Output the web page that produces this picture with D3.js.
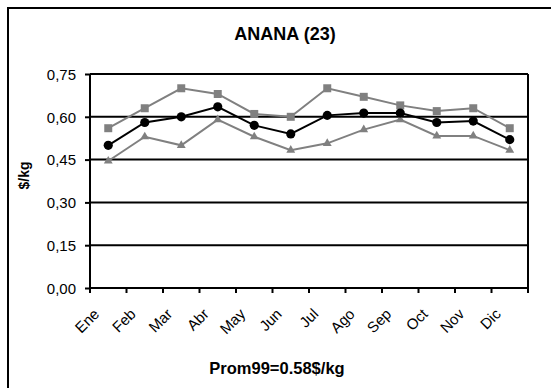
<!DOCTYPE html>
<html>
<head>
<meta charset="utf-8">
<script src="https://cdn.jsdelivr.net/npm/d3@7"></script>
<style>
  body { margin: 0; background: #fff; }
  svg text { font-family: "Liberation Sans", Arial, sans-serif; fill: #000; }
</style>
</head>
<body>
<div id="chart"></div>
<script>
'use strict';

// data
const months = ["Ene", "Feb", "Mar", "Abr", "May", "Jun", "Jul", "Ago", "Sep", "Oct", "Nov", "Dic"];
const maxPrice = [0.56, 0.63, 0.70, 0.68, 0.61, 0.60, 0.70, 0.67, 0.64, 0.62, 0.63, 0.56];
const meanPrice = [0.50, 0.58, 0.60, 0.635, 0.57, 0.54, 0.605, 0.613, 0.613, 0.58, 0.585, 0.52];
const minPrice = [0.445, 0.53, 0.50, 0.59, 0.53, 0.483, 0.507, 0.555, 0.59, 0.533, 0.533, 0.483];
const yTicks = [0, 0.15, 0.30, 0.45, 0.60, 0.75];

const width = 551, height = 388;
const plot = {left: 90, right: 528, top: 74, bottom: 288};

const svg = d3.select("#chart")
  .append("svg")
    .attr("width", width)
    .attr("height", height);

// outer frame (cut off at right and bottom like the original)
svg.append("rect")
  .attr("x", 8)
  .attr("y", 8)
  .attr("width", 560)
  .attr("height", 400)
  .attr("fill", "none")
  .attr("stroke", "#000")
  .attr("stroke-width", 2);

let x = d3.scaleBand()
  .domain(months)
  .range([plot.left, plot.right]);

let y = d3.scaleLinear()
  .domain([0, 0.75])
  .range([plot.bottom, plot.top]);

// gridlines
svg.append("g").selectAll("line")
  .data(yTicks.slice(1))
  .enter()
  .append("line")
  .attr("x1", plot.left)
  .attr("x2", plot.right)
  .attr("y1", d => y(d))
  .attr("y2", d => y(d))
  .attr("stroke", "#000")
  .attr("stroke-width", 2);

// right border of plot area
svg.append("line")
  .attr("x1", plot.right)
  .attr("x2", plot.right)
  .attr("y1", plot.top)
  .attr("y2", plot.bottom)
  .attr("stroke", "#000")
  .attr("stroke-width", 2);

// y axis
let yAxis = svg.append("g")
  .attr("transform", "translate(" + plot.left + ",0)")
  .call(d3.axisLeft(y)
    .tickValues(yTicks)
    .tickSize(5)
    .tickPadding(9)
    .tickFormat(d => d3.format(".2f")(d).replace(".", ",")));

yAxis.selectAll("path, line").attr("stroke", "#000").attr("stroke-width", 2);
yAxis.select(".domain").attr("d", "M0," + plot.top + "V" + plot.bottom);
yAxis.selectAll("text")
  .style("font-size", "15px")
  .style("font-family", "'Liberation Sans', Arial, sans-serif")
  .attr("dy", "0.35em");

// x axis: ticks on the category boundaries
let xAxis = svg.append("g")
  .attr("transform", "translate(0," + plot.bottom + ")");

xAxis.append("line")
  .attr("x1", plot.left)
  .attr("x2", plot.right)
  .attr("stroke", "#000")
  .attr("stroke-width", 2);

let edges = months.map(m => x(m)).concat([plot.right]);
xAxis.selectAll(".edge")
  .data(edges)
  .enter()
  .append("line")
  .attr("class", "edge")
  .attr("x1", d => d)
  .attr("x2", d => d)
  .attr("y1", 0)
  .attr("y2", 5)
  .attr("stroke", "#000")
  .attr("stroke-width", 2);

xAxis.selectAll(".month")
  .data(months)
  .enter()
  .append("text")
  .attr("class", "month")
  .attr("text-anchor", "end")
  .attr("transform", d => "translate(" + (x(d) + x.bandwidth() / 2 - 8) + ",27) rotate(-45)")
  .style("font-size", "15px")
  .text(d => d);

// series
const series = [
  {values: minPrice, color: "#808080", symbol: d3.symbolTriangle, size: 34},
  {values: maxPrice, color: "#808080", symbol: d3.symbolSquare, size: 64},
  {values: meanPrice, color: "#000000", symbol: d3.symbolCircle, size: 66}
];

let line = d3.line()
  .x((d, i) => x(months[i]) + x.bandwidth() / 2)
  .y(d => y(d));

series.forEach(function(s) {
  svg.append("path")
    .datum(s.values)
    .attr("d", line)
    .attr("fill", "none")
    .attr("stroke", s.color)
    .attr("stroke-width", 2);

  svg.append("g").selectAll("path")
    .data(s.values)
    .enter()
    .append("path")
    .attr("d", d3.symbol().type(s.symbol).size(s.size))
    .attr("transform", (d, i) => "translate(" + (x(months[i]) + x.bandwidth() / 2) + "," + y(d) + ")")
    .attr("fill", s.color);
});

// title and axis titles
svg.append("text")
  .attr("x", 285)
  .attr("y", 39.5)
  .attr("text-anchor", "middle")
  .style("font-size", "18px")
  .style("font-weight", "bold")
  .text("ANANA (23)");

svg.append("text")
  .attr("transform", "translate(29,175.5) rotate(-90)")
  .attr("text-anchor", "middle")
  .style("font-size", "14px")
  .style("font-weight", "bold")
  .text("$/kg");

svg.append("text")
  .attr("x", 277)
  .attr("y", 374)
  .attr("text-anchor", "middle")
  .style("font-size", "16.5px")
  .style("font-weight", "bold")
  .text("Prom99=0.58$/kg");
</script>
</body>
</html>
